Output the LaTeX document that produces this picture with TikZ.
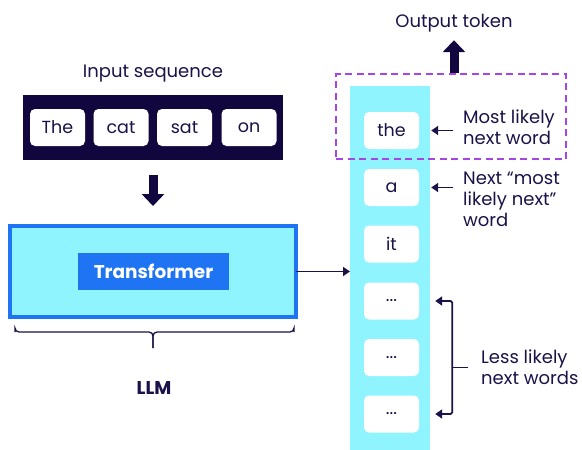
\documentclass[tikz,border=0pt]{standalone}
\usepackage{fontspec}
\setmainfont{Poppins}
\usetikzlibrary{arrows.meta,calc}
\definecolor{navy}{HTML}{12063F}
\definecolor{ink}{HTML}{1A1248}
\definecolor{aqua}{HTML}{8FF4FD}
\definecolor{azure}{HTML}{1E74F2}
\definecolor{violet}{HTML}{A546E4}
\tikzset{
  txt/.style={text=ink, font=\fontsize{18}{21}\selectfont, inner sep=0pt},
  token/.style={fill=white, rounded corners=5pt, minimum width=55pt, minimum height=37pt,
    inner sep=0pt, text=ink, font=\fontsize{17.5}{20}\selectfont},
  boldtxt/.style={font=\fontsize{18.5}{21}\selectfont\bfseries},
  bigarrow/.style={draw=navy, line width=9pt, -{Triangle[width=22pt,length=12pt]}},
  thinarrow/.style={draw=ink, line width=1.8pt, -{Triangle[width=9pt,length=7pt]}},
}
\begin{document}
\begin{tikzpicture}[x=1pt,y=-1pt]
\useasboundingbox (0,0) rectangle (582,450);

% input sequence
\node[txt] (inlabel) at (153,74) {Input sequence};
\node[fill=navy, minimum width=260pt, minimum height=65pt, inner sep=0pt] (inbar) at (153,127.5) {};
\node[token] (t1) at (57.5,127.5) {The};
\node[token] (t2) at (121,127.5) {cat};
\node[token] (t3) at (184.5,127.5) {sat};
\node[token] (t4) at (249,127.5) {on};

% the model
\node[draw=azure, line width=4pt, fill=aqua, minimum width=286pt, minimum height=91pt,
  inner sep=0pt, outer sep=0pt] (llm) at (153,271.5) {};
\node[fill=azure, text=white, minimum width=151pt, minimum height=37pt, inner sep=0pt,
  boldtxt] (tf) at (153.5,271.5) {Transformer};
\draw[bigarrow, shorten <=15pt, shorten >=20pt] (inbar.south) -- (llm.north);

% brace under the model
\coordinate (bl) at ($(llm.south west)+(5,15)$);
\coordinate (br) at ($(llm.south east)+(-2,15)$);
\coordinate (bm) at ($(llm.south)+(0,31)$);
\draw[ink, line width=1.3pt, rounded corners=4pt] (bl) |- ($(bm)+(0,-16)$) -- (bm);
\draw[ink, line width=1.3pt, rounded corners=4pt] (br) |- ($(bm)+(0,-16)$) -- (bm);
\node[txt, boldtxt] (llmlabel) at (154,388) {LLM};

% candidate words
\node[fill=aqua, minimum width=80pt, minimum height=364pt, inner sep=0pt, anchor=north west] (strip) at (350,86) {};
\draw[thinarrow] (llm.east) -- (llm.east -| strip.west);
\node[token] (w1) at (391.5,130.5) {the};
\node[token] (w2) at (391.5,187.5) {a};
\node[token] (w3) at (391.5,244) {it};
\node[token] (w4) at (391.5,301) {...};
\node[token] (w5) at (391.5,357.5) {...};
\node[token] (w6) at (391.5,414) {...};

% selected token
\node[draw=violet, line width=1.6pt, dash pattern=on 7pt off 4.5pt, minimum width=230pt,
  minimum height=85pt, inner sep=0pt] (sel) at (451,116.5) {};
\node[txt] (outlabel) at (454,23) {Output token};
\draw[bigarrow, shorten >=8pt] (sel.north -| outlabel) -- (outlabel.south);

% annotations
\node[txt, anchor=west, align=left] (n1) at (463,127.5) {Most likely\\next word};
\node[txt, anchor=west, align=left] (n2) at (463,199) {Next “most\\likely next”\\word};
\node[txt, anchor=west, align=left] (n3) at (481,367.5) {Less likely\\next words};
\draw[thinarrow, shorten >=12pt] ([xshift=-10pt]n1.west |- w1.east) -- (w1.east);
\draw[thinarrow, shorten >=12pt] ([xshift=-10pt]n2.west |- w2.east) -- (w2.east);
\draw[thinarrow, {Triangle[width=9pt,length=7pt]}-{Triangle[width=9pt,length=7pt]}, rounded corners=1.5pt]
  ([xshift=16pt]w4.east) -| ([xshift=33pt]w5.east) |- ([xshift=16pt]w6.east);
\draw[ink, line width=1.8pt] ([xshift=33pt]w5.east |- n3.west) -- ([xshift=-13pt]n3.west);
\end{tikzpicture}
\end{document}
